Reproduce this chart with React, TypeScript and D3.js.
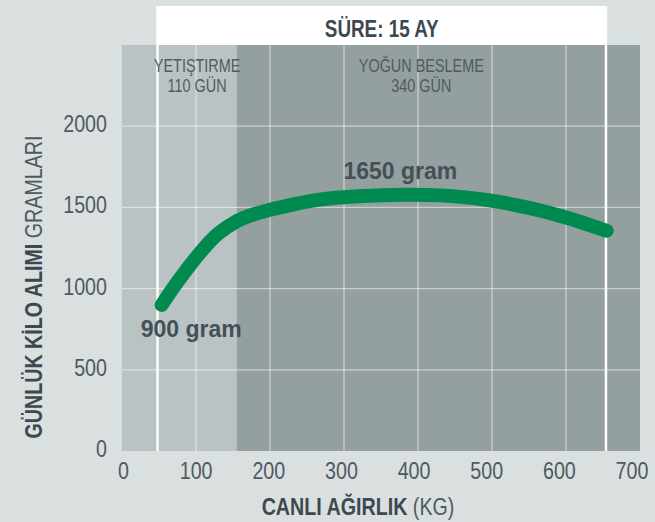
import React from 'react';
import * as d3 from 'd3';

const W = 655;
const H = 522;

// Curve: live weight (kg) vs daily weight gain (g)
const weights = [53.6, 70, 87, 110, 130, 155, 180, 200, 235, 267, 320, 380, 430, 490, 550, 600, 655];
const gains = [899, 1010, 1115, 1245, 1338, 1415, 1460, 1485, 1522, 1548, 1568, 1578, 1574, 1548, 1497, 1438, 1356];

const xTicks = [0, 100, 200, 300, 400, 500, 600, 700];
const yTicks = [0, 500, 1000, 1500, 2000];
const xGrid = [100, 200, 300, 400, 500, 600];
const yGrid = [500, 1000, 1500, 2000];

// phases (kg)
const phaseStart = 48;
const phaseSplit = 155;
const phaseEnd = 654;
const phaseLabels = [
  ['YETIŞTIRME', '110 GÜN'],
  ['YOĞUN BESLEME', '340 GÜN'],
];
const headerText = 'SÜRE: 15 AY';
const startLabel = '900 gram';
const peakLabel = '1650 gram';
const xTitleBold = 'CANLI AĞIRLIK';
const xTitleReg = ' (KG)';
const yTitleBold = 'GÜNLÜK KİLO ALIMI';
const yTitleReg = ' GRAMLARI';

const SANS = "'Liberation Sans', Arial, sans-serif";

type NProps = {
  x: number;
  y: number;
  sx?: number;
  rotate?: number;
  anchor?: 'start' | 'middle' | 'end';
  size: number;
  weight?: string;
  fill: string;
  children: React.ReactNode;
};

function NText({ x, y, sx = 0.82, rotate = 0, anchor = 'middle', size, weight = 'normal', fill, children }: NProps) {
  return (
    <g transform={`translate(${x},${y}) rotate(${rotate}) scale(${sx},1)`}>
      <text x={0} y={0} textAnchor={anchor} fontFamily={SANS} fontSize={size} fontWeight={weight} fill={fill}>
        {children}
      </text>
    </g>
  );
}

export default function App() {
  const x = d3.scaleLinear().domain([0, 700]).range([122, 640]);
  const xLab = d3.scaleLinear().domain([0, 700]).range([123.5, 632]);
  const y = d3.scaleLinear().domain([0, 2500]).range([451, 45]);
  const plotTop = y(2500);
  const plotBottom = y(0);

  const line = d3
    .line<number>()
    .x((_, i) => x(weights[i]))
    .y((d) => y(d))
    .curve(d3.curveCatmullRom.alpha(0.5));

  const tickColor = '#4f5961';
  const titleColor = '#3e4851';

  const hx0 = x(phaseStart);
  const hx1 = x(phaseEnd);
  const split = x(phaseSplit);

  return (
    <div style={{ position: 'fixed', left: 0, top: 0 }}>
      <svg width={W} height={H} style={{ display: 'block' }}>
        <rect x={0} y={0} width={W} height={H} fill="#dadfe0" />
        {/* plot background regions */}
        <rect x={x(0)} y={plotTop} width={split - x(0)} height={plotBottom - plotTop} fill="#b9c3c4" />
        <rect x={split} y={plotTop} width={x(700) - split} height={plotBottom - plotTop} fill="#949fa0" />
        {/* grid */}
        {xGrid.map((t) => (
          <line key={'gx' + t} x1={x(t)} x2={x(t)} y1={plotTop} y2={plotBottom} stroke="#ffffff" strokeOpacity={0.5} strokeWidth={1.3} />
        ))}
        {yGrid.map((t) => (
          <line key={'gy' + t} x1={x(0)} x2={x(700)} y1={y(t)} y2={y(t)} stroke="#ffffff" strokeOpacity={0.5} strokeWidth={1.3} />
        ))}
        {/* header box */}
        <rect x={hx0} y={6} width={hx1 - hx0} height={plotTop - 6} fill="#ffffff" />
        <line x1={hx0} x2={hx0} y1={6} y2={plotBottom} stroke="#ffffff" strokeWidth={2.5} />
        <line x1={hx1} x2={hx1} y1={6} y2={plotBottom} stroke="#ffffff" strokeWidth={2.5} />
        <NText x={(hx0 + hx1) / 2} y={37} size={23} weight="bold" fill={titleColor}>
          {headerText}
        </NText>
        {/* phase labels */}
        {[(hx0 + split) / 2, (split + hx1) / 2].map((cx, i) => (
          <g key={'pl' + i}>
            <NText x={cx} y={71.5} sx={0.76} size={19} fill="#505a62">
              {phaseLabels[i][0]}
            </NText>
            <NText x={cx} y={92} sx={0.76} size={19} fill="#505a62">
              {phaseLabels[i][1]}
            </NText>
          </g>
        ))}
        {/* curve */}
        <path d={line(gains) || ''} fill="none" stroke="#008a4f" strokeWidth={14} strokeLinecap="round" strokeLinejoin="round" />
        {/* annotations */}
        <text x={x(weights[0]) - 21} y={y(gains[0]) + 32} fontFamily={SANS} fontWeight="bold" fontSize={23} fill="#454f58">
          {startLabel}
        </text>
        <text x={x(375) - 56} y={y(1576) - 16} fontFamily={SANS} fontWeight="bold" fontSize={23} fill="#454f58">
          {peakLabel}
        </text>
        {/* y tick labels */}
        {yTicks.map((t) => (
          <NText key={'yt' + t} x={107} y={y(t) + 6} anchor="end" size={24} fill={tickColor}>
            {t}
          </NText>
        ))}
        {/* x tick labels */}
        {xTicks.map((t) => (
          <NText key={'xt' + t} x={xLab(t)} y={479} size={24} fill={tickColor}>
            {t}
          </NText>
        ))}
        {/* axis titles */}
        <NText x={358} y={515} size={24} fill={titleColor}>
          <tspan fontWeight="bold">{xTitleBold}</tspan>
          <tspan fill={tickColor}>{xTitleReg}</tspan>
        </NText>
        <NText x={42} y={287} rotate={-90} size={24} fill={titleColor}>
          <tspan fontWeight="bold">{yTitleBold}</tspan>
          <tspan fill={tickColor}>{yTitleReg}</tspan>
        </NText>
      </svg>
    </div>
  );
}
